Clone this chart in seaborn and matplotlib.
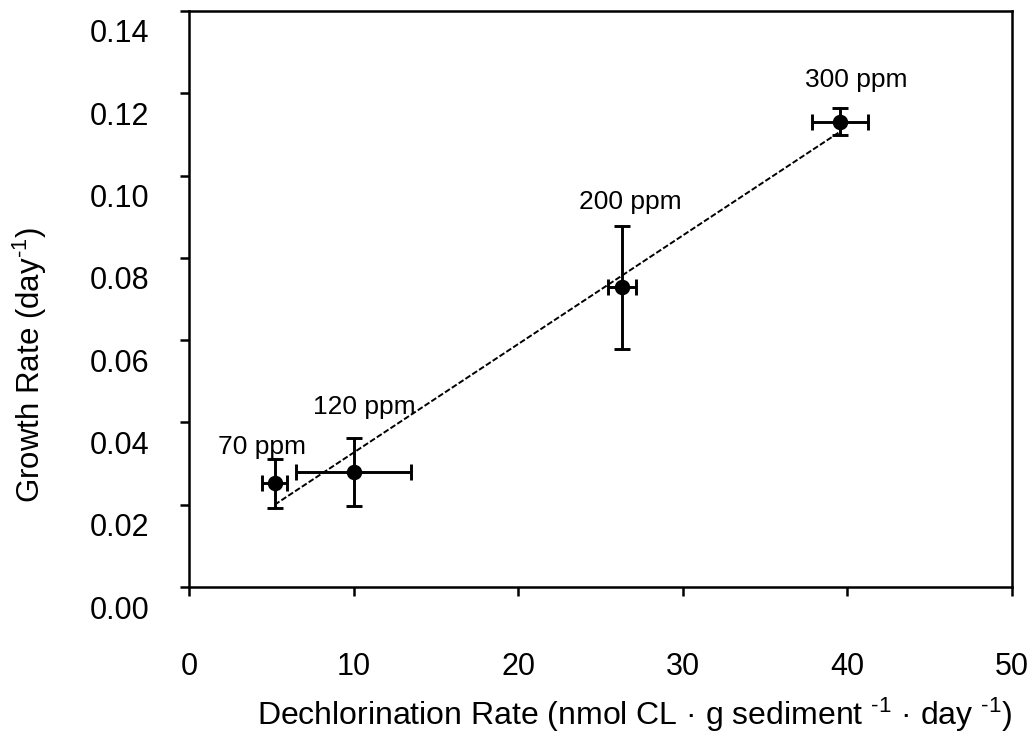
import numpy as np
import pandas as pd
import matplotlib
matplotlib.use("Agg")
import matplotlib.pyplot as plt
import matplotlib.transforms as mtransforms
import seaborn as sns

# ---- data ----
labels = ["70 ppm", "120 ppm", "200 ppm", "300 ppm"]
dechlor_rate = [5.2, 10.0, 26.3, 39.55]
dechlor_err = [0.75, 3.5, 0.85, 1.7]
growth_rate = [0.0252, 0.0279, 0.0728, 0.1131]
growth_err = [0.006, 0.0083, 0.015, 0.0033]
x_ticks = [0, 10, 20, 30, 40, 50]
y_ticks = [0.00, 0.02, 0.04, 0.06, 0.08, 0.10, 0.12, 0.14]

# label offsets (pixels) relative to each point
label_offsets = [(-13, 36), (11, 65), (8, 85), (16, 42)]

df = pd.DataFrame({"x": dechlor_rate, "y": growth_rate,
                   "xerr": dechlor_err, "yerr": growth_err, "label": labels})

sns.set_theme(style="white")
plt.rcParams["font.family"] = ["Liberation Sans", "DejaVu Sans"]
plt.rcParams["mathtext.fontset"] = "custom"
plt.rcParams["mathtext.rm"] = "Liberation Sans"
plt.rcParams["mathtext.default"] = "regular"
plt.rcParams["text.color"] = "black"

fig = plt.figure(figsize=(10.31, 7.48), dpi=100)
ax = fig.add_axes([0.1833, 0.2152, 0.9816 - 0.1833, 0.9853 - 0.2152])

# regression line (dashed)
sns.regplot(data=df, x="x", y="y", scatter=False, ci=None, ax=ax,
            line_kws=dict(color="black", lw=1.4, ls=(0, (3, 1.2))))

# error bars
ax.errorbar(df["x"], df["y"], xerr=df["xerr"], yerr=df["yerr"], fmt="none",
            ecolor="black", elinewidth=2.1, capsize=6, capthick=2.1, zorder=3)

# points
sns.scatterplot(data=df, x="x", y="y", ax=ax, s=125, color="black",
                edgecolor="black", linewidth=0, zorder=4)

for (lx, ly, lab), (dx, dy) in zip(zip(df["x"], df["y"], df["label"]), label_offsets):
    ax.annotate(lab, (lx, ly), xytext=(dx, dy), textcoords="offset pixels",
                ha="center", va="center", fontsize=19, color="black")

ax.set_xlim(0, 50)
ax.set_ylim(0, 0.14)
ax.set_xticks(x_ticks)
ax.set_yticks(y_ticks)
ax.set_xticklabels([str(v) for v in x_ticks])
ax.set_yticklabels([f"{v:.2f}" for v in y_ticks])

for s in ax.spines.values():
    s.set_color("black")
    s.set_linewidth(1.8)

ax.tick_params(axis="both", direction="out", length=6.5, width=1.8,
               color="black", labelsize=22, labelcolor="black")
ax.tick_params(axis="x", pad=40, bottom=True)
ax.tick_params(axis="y", pad=22, left=True)

# shift y tick labels downward as in the reference
offset = mtransforms.ScaledTranslation(0, -0.20, fig.dpi_scale_trans)
for t in ax.get_yticklabels():
    t.set_transform(t.get_transform() + offset)

ax.set_xlabel("Dechlorination Rate (nmol CL · g sediment $^{\u20101}$ · day $^{\u20101}$)",
              fontsize=23, color="black")
ax.set_ylabel("Growth Rate (day$^{\u20101}$)", fontsize=22.5, color="black")
ax.xaxis.set_label_coords(0.542, -0.222)
ax.yaxis.set_label_coords(-0.193, 0.385)
ax.xaxis.label.set_va("center")
ax.yaxis.label.set_va("center")
ax.grid(False)

fig.savefig("out.png", dpi=100, facecolor="white")
